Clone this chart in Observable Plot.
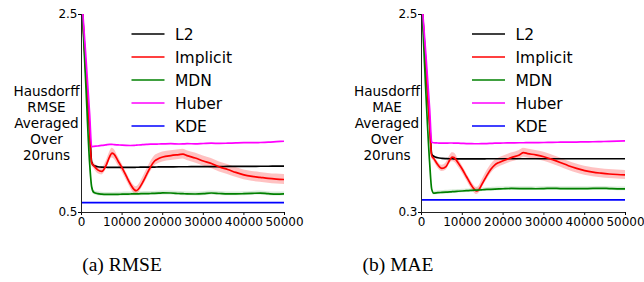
<!DOCTYPE html>
<html><head><meta charset="utf-8">
<script src="https://cdn.jsdelivr.net/npm/d3@7"></script>
<script src="https://cdn.jsdelivr.net/npm/@observablehq/plot@0.6"></script>
<style>
body{margin:0;background:#fff;}
#wrap{position:relative;width:644px;height:282px;overflow:hidden;background:#fff;}
.panel{position:absolute;top:0;}
#overlay{position:absolute;left:0;top:0;pointer-events:none;}
</style></head><body><div id="wrap"><div id="p1" class="panel" style="left:0"></div><div id="p2" class="panel" style="left:322px"></div></div>
<script>
// ---- data ----
const iterations = [0,1000,2000,2500,3000,4000,5000,6000,7000,7500,8000,9000,10000,11000,12000,13000,13500,14000,15000,16000,17000,18000,19000,20000,22000,24000,25000,26000,28000,30000,32000,34000,36000,38000,40000,42000,44000,46000,48000,50000];
const xTicks = [0,10000,20000,30000,40000,50000];
const seriesNames = ["L2","Implicit","MDN","Huber","KDE"];
const seriesColors = ["#000000","#ff0000","#008000","#ff00ff","#0000ff"];

// RMSE panel
const rmseL2 = [2.7,2.0,1.35,1.01,0.975,0.962,0.958,0.957,0.956,0.956,0.955,0.955,0.955,0.955,0.956,0.956,0.957,0.957,0.958,0.958,0.959,0.959,0.96,0.96,0.961,0.962,0.962,0.962,0.963,0.963,0.964,0.964,0.965,0.965,0.966,0.966,0.967,0.967,0.968,0.968];
const rmseImplicit = [2.7,1.95,1.3,1.0,0.975,0.93,0.915,0.97,1.07,1.1,1.09,1.02,0.95,0.87,0.79,0.73,0.72,0.735,0.8,0.88,0.96,1.02,1.045,1.06,1.075,1.085,1.09,1.075,1.05,1.02,0.995,0.96,0.935,0.905,0.88,0.865,0.855,0.845,0.838,0.833];
const rmseImplicitSpread = [0.03,0.03,0.03,0.03,0.03,0.035,0.035,0.04,0.045,0.05,0.05,0.045,0.04,0.04,0.04,0.04,0.04,0.04,0.045,0.05,0.05,0.05,0.05,0.05,0.05,0.05,0.05,0.05,0.05,0.05,0.05,0.05,0.05,0.05,0.05,0.05,0.05,0.05,0.05,0.05];
const rmseMDN = [2.7,1.85,1.0,0.76,0.705,0.69,0.685,0.683,0.683,0.683,0.683,0.684,0.685,0.686,0.687,0.688,0.688,0.689,0.69,0.691,0.692,0.693,0.695,0.698,0.697,0.692,0.69,0.688,0.687,0.69,0.697,0.692,0.688,0.688,0.69,0.693,0.696,0.69,0.686,0.688];
const rmseMDNSpread = [0.02,0.02,0.02,0.02,0.02,0.02,0.02,0.02,0.02,0.02,0.02,0.02,0.02,0.02,0.02,0.02,0.02,0.02,0.02,0.02,0.02,0.02,0.02,0.02,0.02,0.02,0.02,0.02,0.02,0.02,0.02,0.02,0.02,0.02,0.02,0.02,0.02,0.02,0.02,0.02];
const rmseHuber = [2.7,2.12,1.5,1.165,1.168,1.172,1.178,1.183,1.188,1.188,1.186,1.183,1.18,1.178,1.177,1.178,1.18,1.182,1.185,1.188,1.19,1.19,1.192,1.193,1.195,1.192,1.193,1.195,1.194,1.197,1.2,1.198,1.2,1.203,1.205,1.205,1.207,1.21,1.215,1.22];
const rmseKDE = [0.6,0.6,0.6,0.6,0.6,0.6,0.6,0.6,0.6,0.6,0.6,0.6,0.6,0.6,0.6,0.6,0.6,0.6,0.6,0.6,0.6,0.6,0.6,0.6,0.6,0.6,0.6,0.6,0.6,0.6,0.6,0.6,0.6,0.6,0.6,0.6,0.6,0.6,0.6,0.6];

// MAE panel
const maeL2 = [2.7,2.0,1.3,0.95,0.925,0.908,0.902,0.899,0.897,0.897,0.896,0.896,0.896,0.896,0.896,0.896,0.896,0.896,0.896,0.897,0.897,0.897,0.897,0.897,0.897,0.897,0.897,0.897,0.897,0.897,0.897,0.897,0.897,0.897,0.897,0.897,0.897,0.897,0.897,0.897];
const maeImplicit = [2.7,1.95,1.25,0.93,0.9,0.83,0.79,0.81,0.89,0.915,0.91,0.85,0.78,0.7,0.62,0.555,0.54,0.55,0.63,0.71,0.78,0.83,0.856,0.875,0.91,0.94,0.965,0.955,0.94,0.92,0.89,0.856,0.82,0.79,0.765,0.748,0.737,0.728,0.722,0.718];
const maeImplicitSpread = [0.03,0.03,0.03,0.03,0.03,0.035,0.035,0.04,0.045,0.05,0.05,0.045,0.04,0.04,0.04,0.04,0.04,0.04,0.045,0.05,0.05,0.05,0.05,0.05,0.05,0.05,0.05,0.05,0.05,0.05,0.05,0.05,0.05,0.05,0.05,0.05,0.05,0.05,0.05,0.05];
const maeMDN = [2.7,1.7,0.85,0.56,0.515,0.52,0.523,0.526,0.529,0.531,0.533,0.536,0.539,0.542,0.545,0.548,0.549,0.55,0.553,0.556,0.558,0.56,0.562,0.564,0.567,0.566,0.565,0.565,0.564,0.566,0.569,0.566,0.565,0.565,0.566,0.567,0.569,0.566,0.563,0.563];
const maeMDNSpread = [0.02,0.02,0.02,0.02,0.02,0.02,0.02,0.02,0.02,0.02,0.02,0.02,0.02,0.02,0.02,0.02,0.02,0.02,0.02,0.02,0.02,0.02,0.02,0.02,0.02,0.02,0.02,0.02,0.02,0.02,0.02,0.02,0.02,0.02,0.02,0.02,0.02,0.02,0.02,0.02];
const maeHuber = [2.7,2.1,1.45,1.08,1.075,1.072,1.07,1.071,1.072,1.072,1.071,1.07,1.068,1.066,1.065,1.064,1.064,1.064,1.065,1.066,1.068,1.07,1.071,1.072,1.073,1.075,1.075,1.076,1.077,1.078,1.08,1.081,1.082,1.083,1.085,1.086,1.088,1.09,1.093,1.097];
const maeKDE = [0.44,0.44,0.44,0.44,0.44,0.44,0.44,0.44,0.44,0.44,0.44,0.44,0.44,0.44,0.44,0.44,0.44,0.44,0.44,0.44,0.44,0.44,0.44,0.44,0.44,0.44,0.44,0.44,0.44,0.44,0.44,0.44,0.44,0.44,0.44,0.44,0.44,0.44,0.44,0.44];

const rmseYDomain = [0.5, 2.5];
const maeYDomain = [0.3, 2.5];
const yLabelRMSE = ["Hausdorff","RMSE","Averaged","Over","20runs"];
const yLabelMAE = ["Hausdorff","MAE","Averaged","Over","20runs"];
const captions = ["(a) RMSE","(b) MAE"];

// ---- drawing ----
function makePanel(cfg) {
  const rows = (vals, spread) => iterations.map((x, i) => ({x, y: vals[i], lo: spread ? vals[i] - spread[i] : null, hi: spread ? vals[i] + spread[i] : null}));
  const lines = cfg.values.map((vals, k) => Plot.line(rows(vals), {x: "x", y: "y", stroke: seriesColors[k], strokeWidth: 1.7, curve: "monotone-x", clip: true}));
  return Plot.plot({
    width: 322, height: 230,
    marginLeft: cfg.marginLeft, marginRight: cfg.marginRight, marginTop: 14, marginBottom: 18,
    style: {fontFamily: "'DejaVu Sans', sans-serif", fontSize: "12px", background: "transparent", color: "#000", overflow: "visible"},
    x: {domain: [0, 50000], ticks: xTicks, tickFormat: d => String(d), tickSize: 3, tickPadding: 2, label: null},
    y: {domain: cfg.yDomain, ticks: cfg.yDomain, tickFormat: d3.format(".1f"), tickSize: 3, tickPadding: 1, label: null},
    marks: [
      Plot.areaY(rows(cfg.values[1], cfg.implicitSpread), {x: "x", y1: "lo", y2: "hi", fill: "#ff0000", fillOpacity: 0.24, curve: "monotone-x", clip: true}),
      Plot.areaY(rows(cfg.values[2], cfg.mdnSpread), {x: "x", y1: "lo", y2: "hi", fill: "#008000", fillOpacity: 0.15, curve: "monotone-x", clip: true}),
      ...lines,
      Plot.ruleX([0], {stroke: "#222", strokeWidth: 1}),
      Plot.ruleY([cfg.yDomain[0]], {stroke: "#222", strokeWidth: 1})
    ]
  });
}

document.getElementById("p1").appendChild(makePanel({
  marginLeft: 81, marginRight: 38, yDomain: rmseYDomain,
  values: [rmseL2, rmseImplicit, rmseMDN, rmseHuber, rmseKDE],
  implicitSpread: rmseImplicitSpread, mdnSpread: rmseMDNSpread
}));
document.getElementById("p2").appendChild(makePanel({
  marginLeft: 99, marginRight: 19, yDomain: maeYDomain,
  values: [maeL2, maeImplicit, maeMDN, maeHuber, maeKDE],
  implicitSpread: maeImplicitSpread, mdnSpread: maeMDNSpread
}));

// overlay: legends, y labels, captions
const svg = d3.select("#wrap").append("svg").attr("id", "overlay").attr("width", 644).attr("height", 282);
const legendOffsets = [131.5, 472];
legendOffsets.forEach(lx => {
  seriesNames.forEach((name, i) => {
    const cy = 34 + i * 23;
    svg.append("line").attr("x1", lx).attr("x2", lx + 33).attr("y1", cy).attr("y2", cy)
      .attr("stroke", seriesColors[i]).attr("stroke-width", 1.7);
    svg.append("text").attr("x", lx + 43.5).attr("y", cy + 5.8)
      .attr("font-family", "'DejaVu Sans', sans-serif").attr("font-size", 15.5).attr("fill", "#000").text(name);
  });
});
[[46.5, yLabelRMSE], [387, yLabelMAE]].forEach(([cx, lines]) => {
  const t = svg.append("text").attr("text-anchor", "middle")
    .attr("font-family", "'DejaVu Sans', sans-serif").attr("font-size", 13.6).attr("fill", "#000");
  lines.forEach((s, i) => t.append("tspan").attr("x", cx).attr("y", 96 + i * 15.9).text(s));
});
[[122, captions[0]], [398, captions[1]]].forEach(([cx, s]) => {
  svg.append("text").attr("x", cx).attr("y", 271).attr("text-anchor", "middle")
    .attr("font-family", "'Liberation Serif', 'Times New Roman', serif").attr("font-size", 19.5).attr("fill", "#000").text(s);
});
</script>
</body></html>
